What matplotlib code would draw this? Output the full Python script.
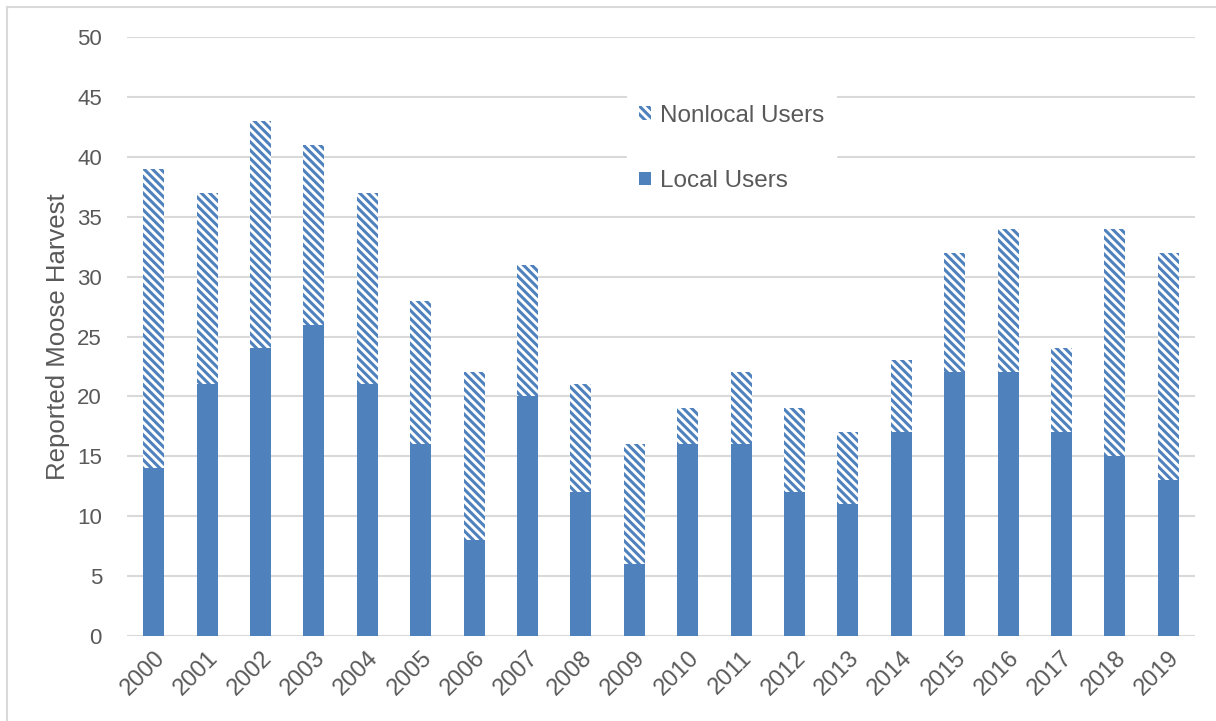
import matplotlib
matplotlib.use('Agg')
import matplotlib.pyplot as plt
import numpy as np
from matplotlib.lines import Line2D

plt.rcParams['font.family'] = ['Liberation Sans', 'DejaVu Sans']
plt.rcParams['hatch.linewidth'] = 2.2

years = ['2000', '2001', '2002', '2003', '2004', '2005', '2006', '2007', '2008', '2009',
         '2010', '2011', '2012', '2013', '2014', '2015', '2016', '2017', '2018', '2019']
local_users = [14, 21, 24, 26, 21, 16, 8, 20, 12, 6, 16, 16, 12, 11, 17, 22, 22, 17, 15, 13]
nonlocal_users = [25, 16, 19, 15, 16, 12, 14, 11, 9, 10, 3, 6, 7, 6, 6, 10, 12, 7, 19, 19]

blue = '#4f81bd'
grey = '#595959'

fig = plt.figure(figsize=(12.16, 7.21), dpi=100)
ax = fig.add_axes([127 / 1216, 1 - 636 / 721, (1195 - 127) / 1216, (636 - 37) / 721])

x = np.arange(len(years))
ax.bar(x, local_users, width=0.39, color=blue, label='Local Users', zorder=3)
ax.bar(x, nonlocal_users, width=0.39, bottom=local_users, color='white',
       edgecolor=blue, hatch='\\\\\\\\', linewidth=0, label='Nonlocal Users', zorder=3)

ax.set_xlim(-0.5, len(years) - 0.5)
ax.set_ylim(0, 50)
ax.set_yticks(range(0, 51, 5))
ax.set_xticks(x)
ax.set_xticklabels(years, rotation=45, ha='right', rotation_mode='anchor')
ax.tick_params(axis='y', length=0, labelsize=16, labelcolor=grey, pad=18)
ax.tick_params(axis='x', length=0, labelsize=17, labelcolor=grey, pad=8)
ax.grid(axis='y', color='#d9d9d9', linewidth=1.5, zorder=0)
for s in ax.spines.values():
    s.set_visible(False)
ax.set_ylabel('Reported Moose Harvest', fontsize=18.5, color=grey, labelpad=5)

handles, labels = ax.get_legend_handles_labels()
leg = ax.legend(handles[::-1], labels[::-1], loc='upper left',
                bbox_to_anchor=(0.468, 0.907), frameon=True, fontsize=17.5,
                labelcolor=grey, handlelength=0.5, handleheight=0.5,
                handletextpad=0.35, labelspacing=1.78, borderpad=0.5,
                borderaxespad=0)
leg.get_frame().set_edgecolor('white')
leg.get_frame().set_facecolor('white')
leg.get_frame().set_alpha(1)
leg.set_zorder(5)

# light grey frame round the picture
fig.add_artist(Line2D([7 / 1216, 1], [1 - 7 / 721, 1 - 7 / 721], color='#d9d9d9', lw=1.5))
fig.add_artist(Line2D([7 / 1216, 7 / 1216], [0, 1 - 7 / 721], color='#d9d9d9', lw=1.5))

fig.savefig('out.png', dpi=100, facecolor='white')
